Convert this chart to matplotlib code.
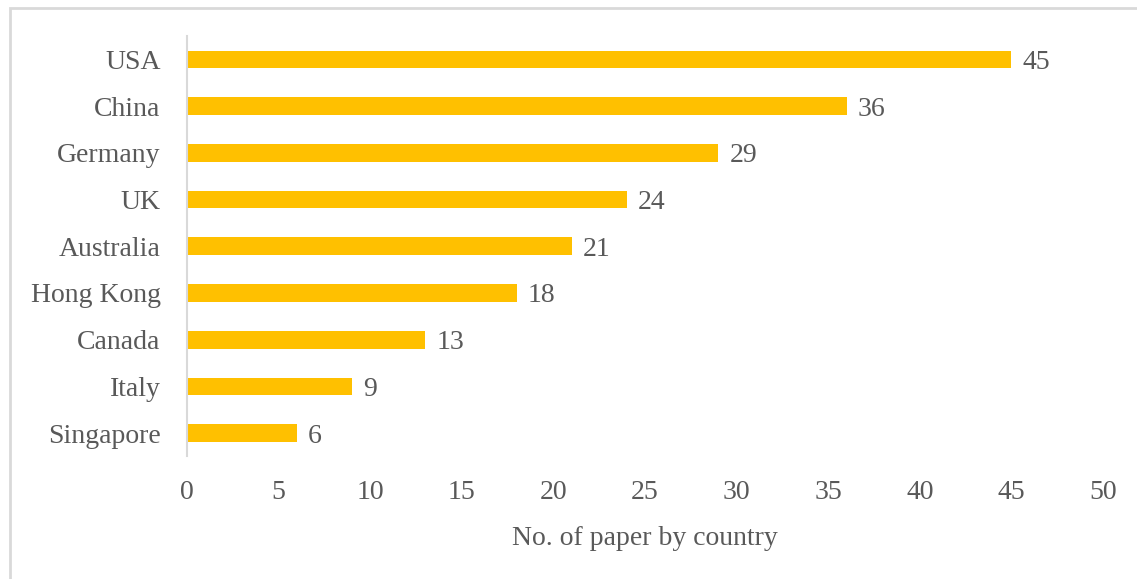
import matplotlib
matplotlib.use('Agg')
from matplotlib import pyplot as plt
from matplotlib.patches import Rectangle

countries = ['USA', 'China', 'Germany', 'UK', 'Australia', 'Hong Kong',
             'Canada', 'Italy', 'Singapore']
papers = [45, 36, 29, 24, 21, 18, 13, 9, 6]
x_ticks = [0, 5, 10, 15, 20, 25, 30, 35, 40, 45, 50]

TEXT = '#595959'
BAR = '#FFC000'
FS = 20

plt.rcParams['font.family'] = ['Liberation Serif', 'DejaVu Serif']

fig = plt.figure(figsize=(11.37, 5.79), dpi=100)
ax = fig.add_axes([0.1645, 0.2117, 0.8056, 0.7258])

# outer chart frame (only left and top visible in the crop)
fig.patches.append(Rectangle((10 / 1137, -0.05), 1.2, 1.05 - 8 / 579,
                             transform=fig.transFigure, fill=False,
                             edgecolor='#D9D9D9', linewidth=2))

pos = list(range(len(countries)))
ax.barh(pos, papers, height=0.38, color=BAR)
for p, v in zip(pos, papers):
    ax.text(v + 0.6, p, str(v), va='center_baseline', ha='left', fontsize=FS,
            color=TEXT)

ax.set_xlim(0, 50)
ax.set_ylim(len(countries) - 0.5, -0.5)
ax.set_xticks(x_ticks)
ax.set_yticks(pos)
ax.set_yticklabels(countries)
ax.tick_params(axis='both', length=0, labelsize=FS, labelcolor=TEXT)
ax.tick_params(axis='y', pad=19)
ax.tick_params(axis='x', pad=17)
ax.set_xlabel('No. of paper by country', fontsize=FS, color=TEXT, labelpad=15)

for s in ['top', 'right', 'bottom']:
    ax.spines[s].set_visible(False)
ax.spines['left'].set_color('#D9D9D9')
ax.spines['left'].set_linewidth(1.5)

fig.savefig('out.png', dpi=100)
